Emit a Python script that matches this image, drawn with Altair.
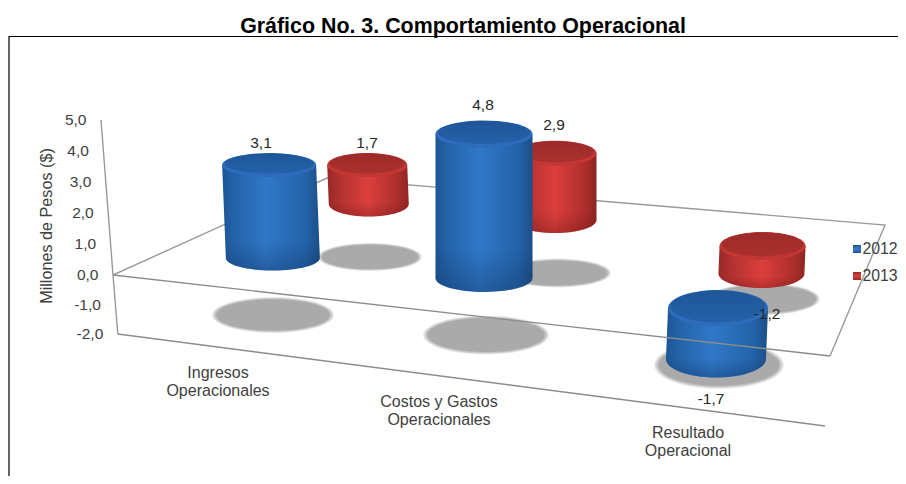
import altair as alt
import pandas as pd

TITLE = "Gráfico No. 3. Comportamiento Operacional"
CATEGORIES = ["Ingresos\nOperacionales", "Costos y Gastos\nOperacionales", "Resultado\nOperacional"]
SERIES = ["2012", "2013"]
VALUES_2012 = [3.1, 4.8, -1.7]
VALUES_2013 = [1.7, 2.9, -1.2]
TICKS = [5, 4, 3, 2, 1, 0, -1, -2]
AXIS_TITLE = "Millones  de Pesos ($)"


# --- oblique projection of the 3-D scene (category c, series s, value v) ---
def base_x(c, s):
    return 271 + 97 * s + c * (203 + 10 * c) - 26 * c * s


def base_y(c, s):
    return 258 + c * (15 + 5 * c) - (54 + 4 * c) * s


def unit(s):
    return 30 - 7 * s


def radius_x(c, s):
    return 47 - 7 * s + 1.5 * c


def radius_y(c, s):
    return 12 + c * c * (1.5 - s)


def ellipse(rx, ry, dy=0):
    return f"M {-rx} {dy} A {rx} {ry} 0 1 1 {rx} {dy} A {rx} {ry} 0 1 1 {-rx} {dy} Z"


def body_path(rx, ry, h, lean):
    return (f"M {-rx} 0 L {-rx + lean} {h} A {rx} {ry + 0.5} 0 0 0 {rx + lean} {h} "
            f"L {rx} 0 Z")


LABEL_DX = [[-10, -1, -6], [-1, -1, 5]]
SHADOW_STEPS = [(1.0, 1.0, "#ececec"), (0.98, 0.96, "#d8d8d8"), (0.96, 0.92, "#c2c2c2"), (0.93, 0.87, "#aaaaaa")]

rows = []
for s, vals in enumerate([VALUES_2012, VALUES_2013]):
    for c, v in enumerate(vals):
        cx, by = base_x(c, s), base_y(c, s)
        rx, ry = radius_x(c, s), radius_y(c, s)
        ty = by - unit(s) * v
        hi, lo = min(by, ty), max(by, ty)
        lean = (1 - c) * 0.04 * (lo - hi)
        gap = 10 + 6 * c + (4 if s == 1 and v < 0 else 0)
        row = dict(
            series=SERIES[s], cx=cx - lean / 2, hi=hi,
            body=body_path(rx, ry, lo - hi, lean),
            rim=ellipse(rx, ry),
            cap=ellipse(rx - 2.5, ry - 2, -1.5),
            sx=cx + 2, sy=by + 57 - 4 * s,
            lx=cx + LABEL_DX[s][c],
            ly=(hi - ry - gap) if v > 0 else (lo + ry + gap),
            label=f"{v:.1f}".replace(".", ","),
        )
        for k, (fx, fy, _) in enumerate(SHADOW_STEPS):
            row[f"sh{k}"] = ellipse(rx * 1.3 * fx, (ry + 6 - 4 * s) * fy)
        rows.append(row)
bars = pd.DataFrame(rows)

xs = alt.Scale(domain=[8, 898], nice=False, zero=False)
ys = alt.Scale(domain=[476, 8], nice=False, zero=False)


def X(f):
    return alt.X(f"{f}:Q", scale=xs, axis=None)


def Y(f):
    return alt.Y(f"{f}:Q", scale=ys, axis=None)


def seg_chart(segments, color, width):
    d = pd.DataFrame([
        dict(seg=i, ord=j, x=p[0], y=p[1])
        for i, seg in enumerate(segments) for j, p in enumerate(seg)
    ])
    return alt.Chart(d).mark_line(color=color, strokeWidth=width, interpolate="linear").encode(
        x=X("x"), y=Y("y"), detail="seg:N", order="ord:Q"
    )


def tick_x(v):
    return 113 - 2.4 * v


def tick_y(v):
    return 275 - v * (31 if v > 0 else 29.5)


GREY = "#9a9a9a"
FL, FR, BR, BL = (113, 275), (830, 356), (885, 225), (327, 178)
back = seg_chart([
    [(tick_x(5), tick_y(5)), FL, (tick_x(-2), tick_y(-2))],
    [FL, BL, BR, FR],
], GREY, 1.4)
bottom = seg_chart([[(tick_x(-2), tick_y(-2)), (825, 426)]], "#8c8c8c", 1.4)
front = seg_chart([[FL, FR]], "#8c8c8c", 1.4)
frame = seg_chart([[(9, 476), (9, 36.5), (898, 36.5)]], "#000000", 1.2)


def lin(stops, horizontal=True):
    return {
        "gradient": "linear", "x1": 0, "y1": 0,
        "x2": 1 if horizontal else 0, "y2": 0 if horizontal else 1,
        "stops": [{"offset": o, "color": col} for o, col in stops],
    }


BODY = {
    "2012": lin([(0, "#1d5594"), (0.12, "#2362a8"), (0.45, "#3078c8"), (0.85, "#2363a9"), (1, "#1c4f88")]),
    "2013": lin([(0, "#962827"), (0.14, "#b03130"), (0.5, "#dc3f3c"), (0.85, "#ae2f2d"), (1, "#8e2524")]),
}
SHADE = {
    "2012": lin([(0, "rgba(15,45,90,0)"), (0.72, "rgba(15,45,90,0)"), (1, "rgba(15,45,90,0.35)")], horizontal=False),
    "2013": lin([(0, "rgba(90,15,15,0)"), (0.72, "rgba(90,15,15,0)"), (1, "rgba(90,15,15,0.3)")], horizontal=False),
}
RIM = {"2012": "#2c6cba", "2013": "#c23634"}
TOP = {
    "2012": lin([(0, "#1f5698"), (1, "#2361aa")], horizontal=False),
    "2013": lin([(0, "#9c2b29"), (1, "#ab302d")], horizontal=False),
}
CHIP = {
    "2012": lin([(0, "#1f5595"), (0.5, "#3a7cc8"), (1, "#1f5595")], horizontal=False),
    "2013": lin([(0, "#9a2a28"), (0.5, "#da3e3b"), (1, "#9a2a28")], horizontal=False),
}


def sym(d, field, x, y, color):
    return alt.Chart(d).mark_point(filled=True, color=color, opacity=1, size=4).encode(
        x=X(x), y=Y(y), shape=alt.Shape(f"{field}:N", scale=None, legend=None)
    )


def cylinder(name):
    d = bars[bars.series == name]
    return (
        sym(d, "body", "cx", "hi", BODY[name])
        + sym(d, "body", "cx", "hi", SHADE[name])
        + sym(d, "rim", "cx", "hi", RIM[name])
        + sym(d, "cap", "cx", "hi", TOP[name])
    )


shadows = [sym(bars, f"sh{k}", "sx", "sy", col) for k, (_, _, col) in enumerate(SHADOW_STEPS)]

FONT = "Liberation Sans"


def texts(d, color="#404040", size=15.5, **kw):
    return alt.Chart(d).mark_text(font=FONT, fontSize=size, color=color, baseline="middle", **kw)


value_labels = texts(bars, color="#262626", align="center").encode(x=X("lx"), y=Y("ly"), text="label:N")

tick_df = pd.DataFrame([
    dict(x=tick_x(v) - 14.5, y=tick_y(v), t=f"{v:.1f}".replace(".", ",")) for v in TICKS
])
tick_labels = texts(tick_df, align="right").encode(x=X("x"), y=Y("y"), text="t:N")

cat_rows = []
for c, name in enumerate(CATEGORIES):
    for i, line in enumerate(name.split("\n")):
        cat_rows.append(dict(
            x=218 + 221 * c + 14 * c * (c - 1),
            y=373 + 29 * c + c * (c - 1) + 18 * i,
            t=line,
        ))
cat_labels = texts(pd.DataFrame(cat_rows), align="center", size=16).encode(x=X("x"), y=Y("y"), text="t:N")

axis_title = texts(pd.DataFrame([dict(x=47, y=226, t=AXIS_TITLE)]), align="center", angle=270, size=16.2).encode(
    x=X("x"), y=Y("y"), text="t:N"
)
title = texts(pd.DataFrame([dict(x=463, y=27, t=TITLE)]), color="#000000", align="center", size=21.4, fontWeight="bold").encode(
    x=X("x"), y=Y("y"), text="t:N"
)

legend_df = pd.DataFrame([dict(x=857, tx=862.5, y=249 + 27 * i, s=name) for i, name in enumerate(SERIES)])
legend_text = texts(legend_df, align="left", size=15.8).encode(x=X("tx"), y=Y("y"), text="s:N")
legend_chips = [
    alt.Chart(legend_df[legend_df.s == name]).mark_square(color=CHIP[name], size=64, opacity=1).encode(x=X("x"), y=Y("y"))
    for name in SERIES
]

chart = alt.layer(
    frame, back, *shadows, bottom,
    cylinder("2013"), cylinder("2012"),
    front,
    value_labels, tick_labels, cat_labels, axis_title, title,
    legend_text, *legend_chips,
).properties(width=890, height=468, padding=0, autosize="none", background="#ffffff").configure_view(stroke=None)

chart.save("out.html", embed_options={"renderer": "svg", "actions": False})
